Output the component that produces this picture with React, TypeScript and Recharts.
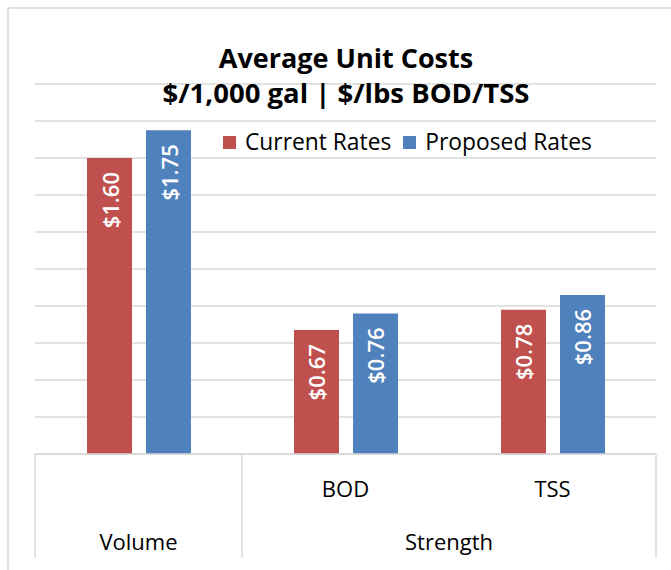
import React from 'react';
import { BarChart, Bar, XAxis, YAxis, CartesianGrid, LabelList } from 'recharts';

if (typeof document !== 'undefined') {
  document.body.style.margin = '0';
}

// ---- data ----
const categories = ['Volume', 'BOD', 'TSS'];
const levelOneLabels = ['', 'BOD', 'TSS'];
const groupLabels = ['Volume', 'Strength'];
const groupSpans = [1, 2];
const currentRates = [1.6, 0.67, 0.78];
const proposedRates = [1.75, 0.76, 0.86];
const seriesNames = ['Current Rates', 'Proposed Rates'];
const yTicks = [0, 0.2, 0.4, 0.6, 0.8, 1.0, 1.2, 1.4, 1.6, 1.8, 2.0];
const titleLines = ['Average Unit Costs', '$/1,000 gal | $/lbs BOD/TSS'];

// ---- layout ----
const WIDTH = 671;
const HEIGHT = 570;
const MARGIN = { top: 84, right: 15, bottom: 10, left: 35 };
const X_AXIS_HEIGHT = 106;
const PLOT_W = WIDTH - MARGIN.left - MARGIN.right;
const PLOT_BOTTOM = HEIGHT - MARGIN.bottom - X_AXIS_HEIGHT;
const BAND = PLOT_W / categories.length;
const FONT = '"Open Sans", "Noto Sans", sans-serif';
const RED = '#C0504D';
const BLUE = '#4F81BD';
const GRID = '#D9D9D9';

const data = categories.map((c, i) => ({
  name: c,
  current: currentRates[i],
  proposed: proposedRates[i],
}));

// group start indices
const groupStarts: number[] = [];
{
  let acc = 0;
  groupSpans.forEach((s) => {
    groupStarts.push(acc);
    acc += s;
  });
}

const AxisTick = (props: any) => {
  const x = Number(props.x);
  const i = props.payload?.index ?? props.index ?? 0;
  const left = x - BAND / 2;
  const right = x + BAND / 2;
  const lineBottom = 558;
  const els: React.ReactNode[] = [];
  const g = groupStarts.indexOf(i);
  if (g >= 0) {
    els.push(
      <line key="l" x1={left} x2={left} y1={PLOT_BOTTOM} y2={lineBottom} stroke={GRID} strokeWidth={1.5} />
    );
    els.push(
      <text
        key="g"
        x={left + (groupSpans[g] * BAND) / 2}
        y={550}
        textAnchor="middle"
        fontFamily={FONT}
        fontSize={22}
        fill="#000"
      >
        {groupLabels[g]}
      </text>
    );
  }
  if (i === categories.length - 1) {
    els.push(
      <line key="r" x1={right} x2={right} y1={PLOT_BOTTOM} y2={lineBottom} stroke={GRID} strokeWidth={1.5} />
    );
  }
  if (levelOneLabels[i]) {
    els.push(
      <text key="t" x={x} y={497} textAnchor="middle" fontFamily={FONT} fontSize={22} fill="#000">
        {levelOneLabels[i]}
      </text>
    );
  }
  return <g>{els}</g>;
};

const BarValueLabel = (props: any) => {
  const x = Number(props.x);
  const y = Number(props.y);
  const w = Number(props.width);
  const v = Number(props.value);
  const cx = x + w / 2;
  const ty = y + 14;
  return (
    <text
      x={cx}
      y={ty}
      transform={`rotate(-90 ${cx} ${ty})`}
      textAnchor="end"
      dominantBaseline="central"
      fill="#fff"
      fontFamily={FONT}
      fontWeight={600}
      fontSize={22}
    >
      {`$${v.toFixed(2)}`}
    </text>
  );
};

const colors = [RED, BLUE];

export default function App() {
  return (
    <div style={{ position: 'relative', width: WIDTH, height: HEIGHT, background: '#fff' }}>
      <BarChart width={WIDTH} height={HEIGHT} data={data} margin={MARGIN} barSize={45} barGap={14}>
        <CartesianGrid vertical={false} stroke={GRID} strokeWidth={1.5} />
        <YAxis hide domain={[0, 2]} ticks={yTicks} type="number" />
        <XAxis
          dataKey="name"
          height={X_AXIS_HEIGHT}
          axisLine={{ stroke: GRID, strokeWidth: 1.5 }}
          tickLine={false}
          tick={<AxisTick />}
          interval={0}
        />
        <Bar dataKey="current" name={seriesNames[0]} fill={RED} isAnimationActive={false}>
          <LabelList dataKey="current" content={<BarValueLabel />} />
        </Bar>
        <Bar dataKey="proposed" name={seriesNames[1]} fill={BLUE} isAnimationActive={false}>
          <LabelList dataKey="proposed" content={<BarValueLabel />} />
        </Bar>
      </BarChart>
      <svg
        width={WIDTH}
        height={HEIGHT}
        style={{ position: 'absolute', left: 0, top: 0, pointerEvents: 'none' }}
      >
        <rect x={8} y={8} width={WIDTH + 20} height={HEIGHT + 20} fill="none" stroke={GRID} strokeWidth={1.5} />
        {titleLines.map((t, i) => (
          <text
            key={t}
            x={346}
            y={68 + i * 35}
            textAnchor="middle"
            fontFamily={FONT}
            fontWeight="bold"
            fontSize={i === 0 ? 27 : 27.5}
            fill="#000"
          >
            {t}
          </text>
        ))}
      </svg>
      <div
        style={{
          position: 'absolute',
          top: 129,
          left: 223,
          display: 'flex',
          alignItems: 'center',
          fontFamily: FONT,
          fontSize: 22.8,
          color: '#000',
          lineHeight: '26px',
          whiteSpace: 'nowrap',
        }}
      >
        {seriesNames.map((n, i) => (
          <div key={n} style={{ display: 'flex', alignItems: 'center', marginRight: i === 0 ? 12 : 0 }}>
            <span style={{ display: 'inline-block', width: 13, height: 13, background: colors[i], marginRight: 9 }} />
            <span>{n}</span>
          </div>
        ))}
      </div>
    </div>
  );
}
